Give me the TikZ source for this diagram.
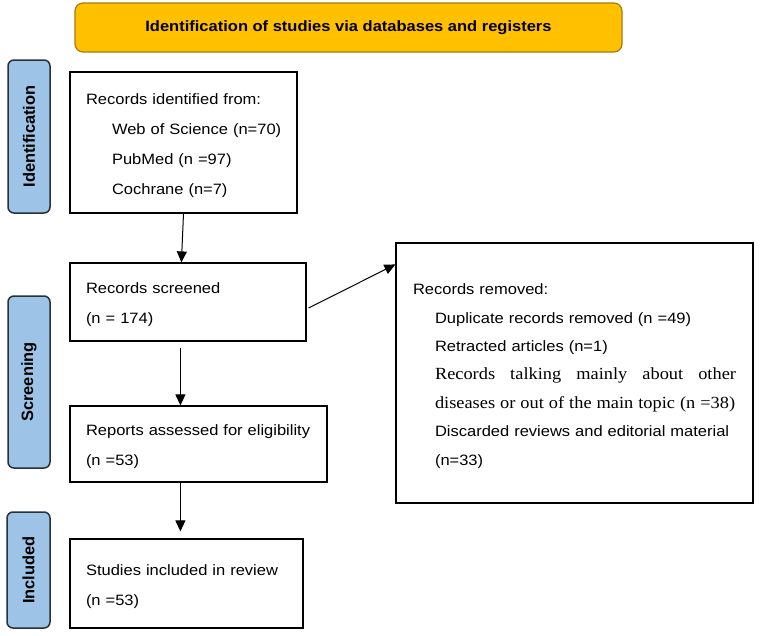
\documentclass[tikz,border=0pt]{standalone}
\usepackage{fontspec}
\setmainfont{Liberation Sans}[FakeStretch=1.1]
\newfontfamily\tabfont{Liberation Sans}
\newfontfamily\serifw{Liberation Serif}[FakeStretch=1.08]
\usetikzlibrary{arrows.meta}
\definecolor{bannerfill}{HTML}{FFC000}
\definecolor{bannerdraw}{HTML}{A47C10}
\definecolor{tabfill}{HTML}{9DC3E6}
\definecolor{tabdraw}{HTML}{26313D}
\begin{document}
\begin{tikzpicture}[x=1pt,y=-1pt,
  box/.style={draw=black,line width=1.2pt,fill=white,align=left,inner xsep=16pt,inner ysep=0pt,
    font=\fontsize{15}{30}\selectfont,execute at begin node={\rule{0pt}{17pt}}},
  tabbox/.style={draw=tabdraw,fill=tabfill,line width=1.5pt,rounded corners=6pt,rotate=90,
    inner sep=0pt,font=\tabfont\bfseries\fontsize{16.4}{18}\selectfont},
  banner/.style={draw=bannerdraw,fill=bannerfill,line width=1.2pt,rounded corners=8pt,inner sep=0pt,
    font=\bfseries\fontsize{15}{18}\selectfont},
  arr/.style={line width=1pt,-{Triangle[length=11pt,width=10pt]}}]
\fill[white] (0,0) rectangle (760,635);
\useasboundingbox (0,0) rectangle (760,635);

\node[banner, minimum width=547pt, minimum height=49pt] (title) at (348.5,27.5)
  {Identification of studies via databases and registers};

\node[tabbox, minimum width=153pt, minimum height=42pt] (tabid) at (29,136.5) {Identification};
\node[tabbox, minimum width=172pt, minimum height=42pt] (tabscr) at (29,382) {Screening};
\node[tabbox, minimum width=116pt, minimum height=43pt] (tabinc) at (28.5,570) {Included};

\node[box, text width=195pt, minimum height=141pt] (ident) at (183.5,142.5)
  {\mbox{Records identified from:}\\
   \hspace*{26pt}\mbox{Web of Science (n=70)}\\
   \hspace*{26pt}\mbox{PubMed (n =97)}\\
   \hspace*{26pt}\mbox{Cochrane (n=7)}};

\node[box, text width=204pt, minimum height=78pt] (screened) at (188,302)
  {\mbox{Records screened}\\\mbox{(n = 174)}};

\node[box, text width=225pt, minimum height=76pt] (reports) at (198.5,444)
  {\mbox{Reports assessed for eligibility}\\\mbox{(n =53)}};

\node[box, text width=201pt, minimum height=89pt] (included) at (186.5,583.5)
  {\mbox{Studies included in review}\\\mbox{(n =53)}};

\node[box, inner xsep=17pt, text width=323pt, minimum height=260pt,
      font=\fontsize{15}{28.4}\selectfont,execute at begin node={\rule{0pt}{14pt}}] (removed) at (574.5,373)
  {\mbox{Records removed:}\\
   \hspace*{22pt}\mbox{Duplicate records removed (n =49)}\\
   \hspace*{22pt}\mbox{Retracted articles (n=1)}\\
   \hspace*{22pt}{\serifw\fontsize{17}{28.4}\selectfont\hbox to 301pt{Records\hfill talking\hfill mainly\hfill about\hfill other}}\\
   \hspace*{22pt}{\serifw\fontsize{17}{28.4}\selectfont\mbox{diseases or out of the main topic (n =38)}}\\
   \hspace*{22pt}\mbox{Discarded reviews and editorial material}\\
   \hspace*{22pt}\mbox{(n=33)}};

\draw[arr] (ident.south) -- ([xshift=112pt]screened.north west);
\draw[arr, shorten <=6pt] ([xshift=111pt]screened.south west) -- ([xshift=111pt]reports.north west);
\draw[arr, shorten >=7pt] ([xshift=111pt]reports.south west) -- ([xshift=111pt]included.north west);
\draw[arr] ([xshift=2pt,yshift=-6pt]screened.east) -- ([yshift=-22pt]removed.north west);
\end{tikzpicture}
\end{document}
